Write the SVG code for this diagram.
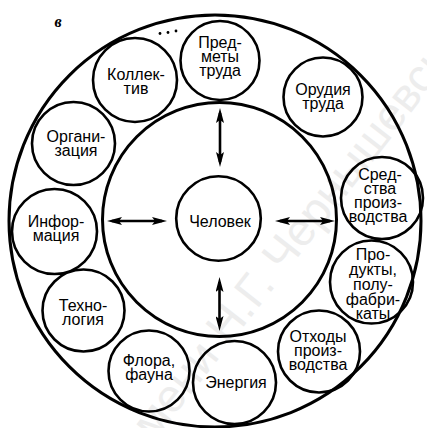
<svg xmlns="http://www.w3.org/2000/svg" width="427" height="428" viewBox="0 0 427 428">
  <style>
    .ring { fill: none; stroke: #000; stroke-width: 3; }
    .node { fill: none; stroke: #000; stroke-width: 2.6; }
    .lbl { font-family: "Liberation Sans", Arial, sans-serif; font-size: 16px; text-anchor: middle; fill: #000; }
    .arrow { stroke: #000; stroke-width: 2.6; fill: none; marker-start: url(#head); marker-end: url(#head); }
    .wm { font-family: "Liberation Sans", Arial, sans-serif; font-size: 46px; fill: #ededed; }
  </style>
  <defs>
    <marker id="head" viewBox="0 0 15 8" refX="10" refY="4" markerWidth="15" markerHeight="8" markerUnits="userSpaceOnUse" orient="auto-start-reverse">
      <path d="M0,0 L15,4 L0,8 L3,4 z" fill="#000"/>
    </marker>
  </defs>
  <rect width="427" height="428" fill="#fff"/>

  <!-- faint background stamp -->
  <text class="wm" transform="translate(138,462) rotate(-52)">имени Н.Г. Чернышевского</text>

  <!-- figure letter -->
  <text x="58" y="27" font-family="Liberation Serif, serif" font-weight="bold" font-style="italic" font-size="16" text-anchor="middle">в</text>

  <!-- rings -->
  <g id="outer-ring"><circle class="ring" cx="215" cy="221" r="206"/></g>
  <g id="inner-ring"><circle class="ring" cx="219.5" cy="219.5" r="117"/></g>

  <!-- continuation dots -->
  <g id="more">
    <circle cx="160" cy="33.5" r="1.4"/>
    <circle cx="168" cy="32.5" r="1.4"/>
    <circle cx="176" cy="31" r="1.4"/>
  </g>

  <!-- center -->
  <g id="chelovek">
    <circle class="node" cx="218.5" cy="218.5" r="42.3"/>
    <text class="lbl" x="220" y="226.5">Человек</text>
  </g>

  <!-- surrounding factors -->
  <g id="predmety-truda">
    <circle class="node" cx="220" cy="60.5" r="39.5"/>
    <text class="lbl" x="220" y="47.5">Пред-</text>
    <text class="lbl" x="220" y="61.5">меты</text>
    <text class="lbl" x="220" y="75.5">труда</text>
  </g>
  <g id="orudiya-truda">
    <circle class="node" cx="323" cy="97" r="39.5"/>
    <text class="lbl" x="323" y="95">Орудия</text>
    <text class="lbl" x="323" y="109">труда</text>
  </g>
  <g id="sredstva-proizvodstva">
    <circle class="node" cx="382" cy="198" r="41"/>
    <text class="lbl" x="380" y="180">Сред-</text>
    <text class="lbl" x="380" y="194">ства</text>
    <text class="lbl" x="378" y="208">произ-</text>
    <text class="lbl" x="378" y="222">водства</text>
  </g>
  <g id="produkty">
    <circle class="node" cx="371.5" cy="282" r="41.5"/>
    <text class="lbl" x="373" y="260">Про-</text>
    <text class="lbl" x="373" y="275">дукты,</text>
    <text class="lbl" x="373" y="290">полу-</text>
    <text class="lbl" x="373" y="305">фабри-</text>
    <text class="lbl" x="373" y="319">каты</text>
  </g>
  <g id="othody">
    <circle class="node" cx="319" cy="351.5" r="41"/>
    <text class="lbl" x="318" y="342">Отходы</text>
    <text class="lbl" x="318" y="356">произ-</text>
    <text class="lbl" x="318" y="370">водства</text>
  </g>
  <g id="energiya">
    <circle class="node" cx="234.5" cy="382.5" r="41.5"/>
    <text class="lbl" x="236" y="388">Энергия</text>
  </g>
  <g id="flora-fauna">
    <circle class="node" cx="149" cy="371" r="40.5"/>
    <text class="lbl" x="149" y="366">Флора,</text>
    <text class="lbl" x="149" y="380">фауна</text>
  </g>
  <g id="tehnologiya">
    <circle class="node" cx="83.5" cy="310.5" r="41"/>
    <text class="lbl" x="83" y="311">Техно-</text>
    <text class="lbl" x="83" y="324.5">логия</text>
  </g>
  <g id="informaciya">
    <circle class="node" cx="54.5" cy="231.5" r="42.5"/>
    <text class="lbl" x="56" y="227">Инфор-</text>
    <text class="lbl" x="56" y="240.5">мация</text>
  </g>
  <g id="organizaciya">
    <circle class="node" cx="73.5" cy="143.5" r="41.5"/>
    <text class="lbl" x="76" y="142">Органи-</text>
    <text class="lbl" x="76" y="155.5">зация</text>
  </g>
  <g id="kollektiv">
    <circle class="node" cx="135" cy="80" r="42"/>
    <text class="lbl" x="136" y="80">Коллек-</text>
    <text class="lbl" x="136" y="93.5">тив</text>
  </g>

  <!-- two-way links between the person and the surrounding ring -->
  <g id="connectors">
    <line class="arrow" x1="220" y1="113" x2="220" y2="162"/>
    <line class="arrow" x1="219.5" y1="282" x2="219.5" y2="326"/>
    <line class="arrow" x1="112" y1="221" x2="162" y2="221"/>
    <line class="arrow" x1="280" y1="221" x2="330" y2="221"/>
  </g>
</svg>
